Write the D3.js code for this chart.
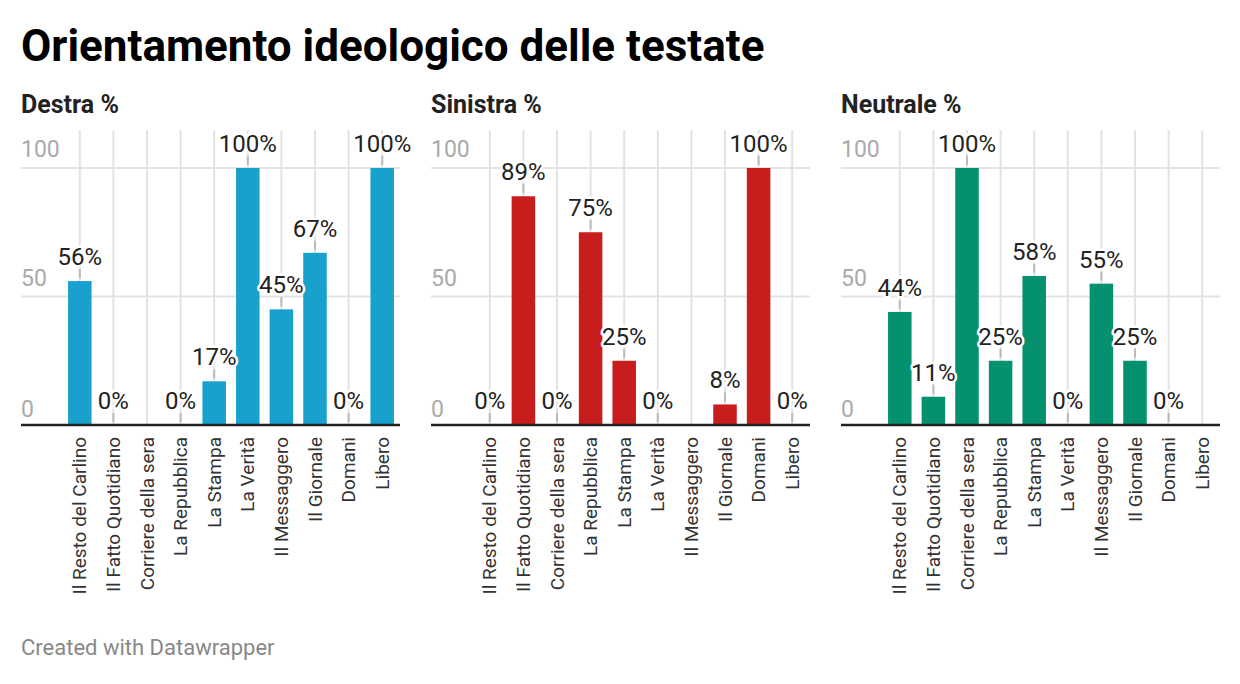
<!DOCTYPE html>
<html>
<head>
<meta charset="utf-8">
<script src="https://cdn.jsdelivr.net/npm/d3@7"></script>
<style>
  body { margin: 0; background: #fff; font-family: Roboto, "Noto Sans", sans-serif; }
  .halo { paint-order: stroke; stroke: #fff; stroke-width: 5px; stroke-linejoin: round; }
</style>
</head>
<body>
<script>
var categories = ["Il Resto del Carlino", "Il Fatto Quotidiano", "Corriere della sera", "La Repubblica",
    "La Stampa", "La Verità", "Il Messaggero", "Il Giornale", "Domani", "Libero"];
var destra   = [56, 0, null, 0, 17, 100, 45, 67, 0, 100];
var sinistra = [0, 89, 0, 75, 25, 0, null, 8, 100, 0];
var neutrale = [44, 11, 100, 25, 58, 0, 55, 25, 0, null];
var panelTitles = ["Destra %", "Sinistra %", "Neutrale %"];
var yTicks = [0, 50, 100];

var width = 1240, height = 684;
var panelW = 379, panelGap = 31, left = 21;
var colors = ["#18a1cd", "#c71e1d", "#05916f"];
var series = [destra, sinistra, neutrale];

var svg = d3.select("body").append("svg")
    .attr("width", width)
    .attr("height", height);

svg.append("text")
    .attr("x", left).attr("y", 61)
    .attr("font-size", 44).attr("font-weight", 700).attr("fill", "#000")
    .text("Orientamento ideologico delle testate");

var y = d3.scaleLinear().domain([0, 100]).range([425, 168]);

series.forEach(function(vals, i){
    var x0 = left + i*(panelW+panelGap);
    var g = svg.append("g");

    var x = d3.scaleBand().domain(categories)
        .range([x0+42, x0+378])
        .paddingInner(0.3).paddingOuter(0.15);

    g.append("text")
        .attr("x", x0).attr("y", 113)
        .attr("font-size", 25).attr("font-weight", 700).attr("fill", "#222")
        .text(panelTitles[i]);

    // vertical grid
    g.selectAll(".vgrid").data(categories).enter()
        .append("line")
        .attr("x1", function(d){return x(d)+x.bandwidth()/2;})
        .attr("x2", function(d){return x(d)+x.bandwidth()/2;})
        .attr("y1", 130).attr("y2", y(0))
        .attr("stroke", "#e3e3e3").attr("stroke-width", 2);

    // horizontal grid + y labels
    g.selectAll(".hgrid").data(yTicks.filter(function(t){return t>0;})).enter()
        .append("line")
        .attr("x1", x0).attr("x2", x0+panelW)
        .attr("y1", function(d){return y(d);}).attr("y2", function(d){return y(d);})
        .attr("stroke", "#e3e3e3").attr("stroke-width", 2);

    g.selectAll(".ylab").data(yTicks).enter()
        .append("text")
        .attr("x", x0).attr("y", function(d){return y(d) - (d==0 ? 8 : 11);})
        .attr("font-size", 23).attr("fill", "#aaa")
        .text(function(d){return d;});

    var rows = categories.map(function(c, j){return {cat: c, v: vals[j]};})
        .filter(function(d){return d.v !== null;});

    g.selectAll(".bar").data(rows).enter()
        .append("rect")
        .attr("x", function(d){return x(d.cat);})
        .attr("width", x.bandwidth())
        .attr("y", function(d){return y(d.v);})
        .attr("height", function(d){return y(0)-y(d.v);})
        .attr("fill", colors[i]);

    // axis line
    g.append("line")
        .attr("x1", x0).attr("x2", x0+panelW)
        .attr("y1", y(0)).attr("y2", y(0))
        .attr("stroke", "#222").attr("stroke-width", 2.5);

    // label ticks
    g.selectAll(".tick").data(rows).enter()
        .append("line")
        .attr("x1", function(d){return x(d.cat)+x.bandwidth()/2;})
        .attr("x2", function(d){return x(d.cat)+x.bandwidth()/2;})
        .attr("y1", function(d){return y(d.v)-12;})
        .attr("y2", function(d){return y(d.v)-3;})
        .attr("stroke", "#bbb").attr("stroke-width", 2);

    g.selectAll(".val").data(rows).enter()
        .append("text")
        .attr("class", "halo")
        .attr("x", function(d){return x(d.cat)+x.bandwidth()/2;})
        .attr("y", function(d){return y(d.v)-16;})
        .attr("text-anchor", "middle")
        .attr("font-size", 24).attr("fill", "#222")
        .text(function(d){return d.v + "%";});

    g.selectAll(".cat").data(categories).enter()
        .append("text")
        .attr("transform", function(d){return "translate(" + (x(d)+x.bandwidth()/2) + ",437) rotate(-90)";})
        .attr("text-anchor", "end")
        .attr("dy", "0.35em")
        .attr("font-size", 19).attr("fill", "#333")
        .text(function(d){return d;});
});

svg.append("text")
    .attr("x", left).attr("y", 655)
    .attr("font-size", 22).attr("fill", "#888")
    .text("Created with Datawrapper");
</script>
</body>
</html>
